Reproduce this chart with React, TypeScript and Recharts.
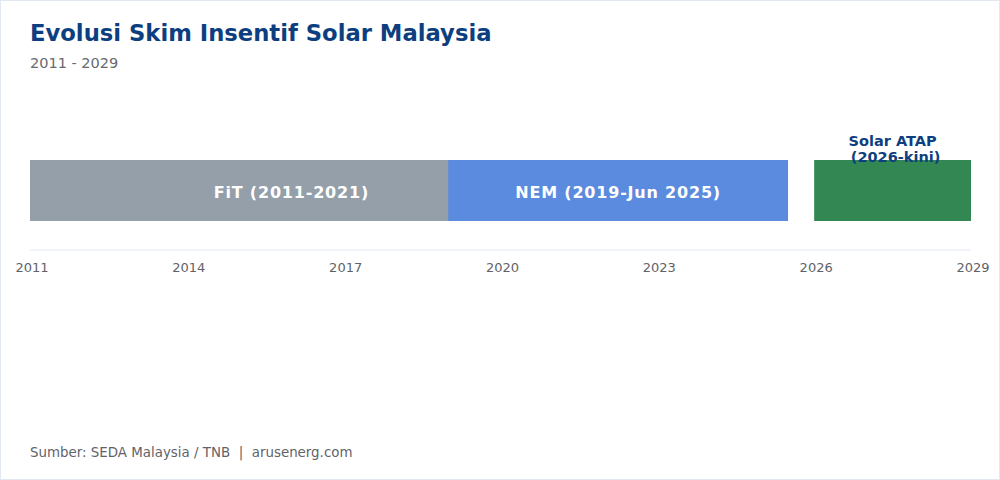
import { Bar, BarChart, LabelList, XAxis, YAxis } from "recharts";

const rows = ["skim"];
const fitRange: [number, number] = [2011, 2021];
const nemRange: [number, number] = [2019, 2025.5];
const atapRange: [number, number] = [2026, 2029];
const yearTicks = [2011, 2014, 2017, 2020, 2023, 2026, 2029];

const data = rows.map((row) => ({
  row,
  fit: fitRange,
  nem: nemRange,
  atap: atapRange,
}));

const font = "'DejaVu Sans', Verdana, sans-serif";

const AtapLabel = (props: any) => {
  const { x, y, width } = props;
  const cx = x + width / 2;
  return (
    <text
      x={cx}
      y={y - 14}
      textAnchor="middle"
      fill="#0d3f80"
      fontSize={14.5}
      fontWeight="bold"
      fontFamily={font}
    >
      <tspan x={cx}>Solar ATAP</tspan>
      <tspan x={cx + 3} dy={16}>
        (2026-kini)
      </tspan>
    </text>
  );
};

const barText = (text: string) => (p: any) => (
  <text
    x={p.x + p.width / 2}
    y={p.y + p.height / 2 + 7}
    textAnchor="middle"
    fill="#fff"
    fontSize={16}
    letterSpacing={0.8}
    fontWeight="bold"
    fontFamily={font}
  >
    {text}
  </text>
);

const App = () => {
  return (
    <div
      style={{
        position: "absolute",
        top: 0,
        left: 0,
        width: 1000,
        height: 480,
        boxSizing: "border-box",
        border: "1px solid #e2e8f0",
        background: "#fff",
        fontFamily: font,
      }}
    >
      <div
        style={{
          position: "absolute",
          left: 29,
          top: 19,
          fontSize: 22.7,
          fontWeight: "bold",
          color: "#0d3f80",
        }}
      >
        Evolusi Skim Insentif Solar Malaysia
      </div>
      <div
        style={{
          position: "absolute",
          left: 29,
          top: 54,
          fontSize: 14.5,
          color: "#666a70",
        }}
      >
        2011 - 2029
      </div>
      <div style={{ position: "absolute", left: -1, top: -1 }}>
        <BarChart
          width={1000}
          height={300}
          data={data}
          layout="vertical"
          margin={{ top: 130, right: 29, left: 30, bottom: 0 }}
          barSize={61}
          barGap={-61}
        >
          <XAxis
            type="number"
            domain={[2011, 2029]}
            ticks={yearTicks}
            allowDecimals={false}
            height={50}
            tickMargin={7}
            axisLine={{ stroke: "#e2e8f0" }}
            tickLine={false}
            tick={{ fill: "#5f6369", fontSize: 13, fontFamily: font, dx: 2 }}
          />
          <YAxis type="category" dataKey="row" hide />
          <Bar dataKey="fit" fill="#959faa" isAnimationActive={false}>
            <LabelList content={barText("FiT (2011-2021)")} />
          </Bar>
          <Bar dataKey="nem" fill="#5b8bde" isAnimationActive={false}>
            <LabelList content={barText("NEM (2019-Jun 2025)")} />
          </Bar>
          <Bar dataKey="atap" fill="#338752" isAnimationActive={false}>
            <LabelList content={AtapLabel} />
          </Bar>
        </BarChart>
      </div>
      <div
        style={{
          position: "absolute",
          left: 29,
          top: 444,
          fontSize: 13.4,
          color: "#5f6369",
        }}
      >
        Sumber: SEDA Malaysia / TNB &nbsp;|&nbsp; arusenerg.com
      </div>
    </div>
  );
};

export default App;
